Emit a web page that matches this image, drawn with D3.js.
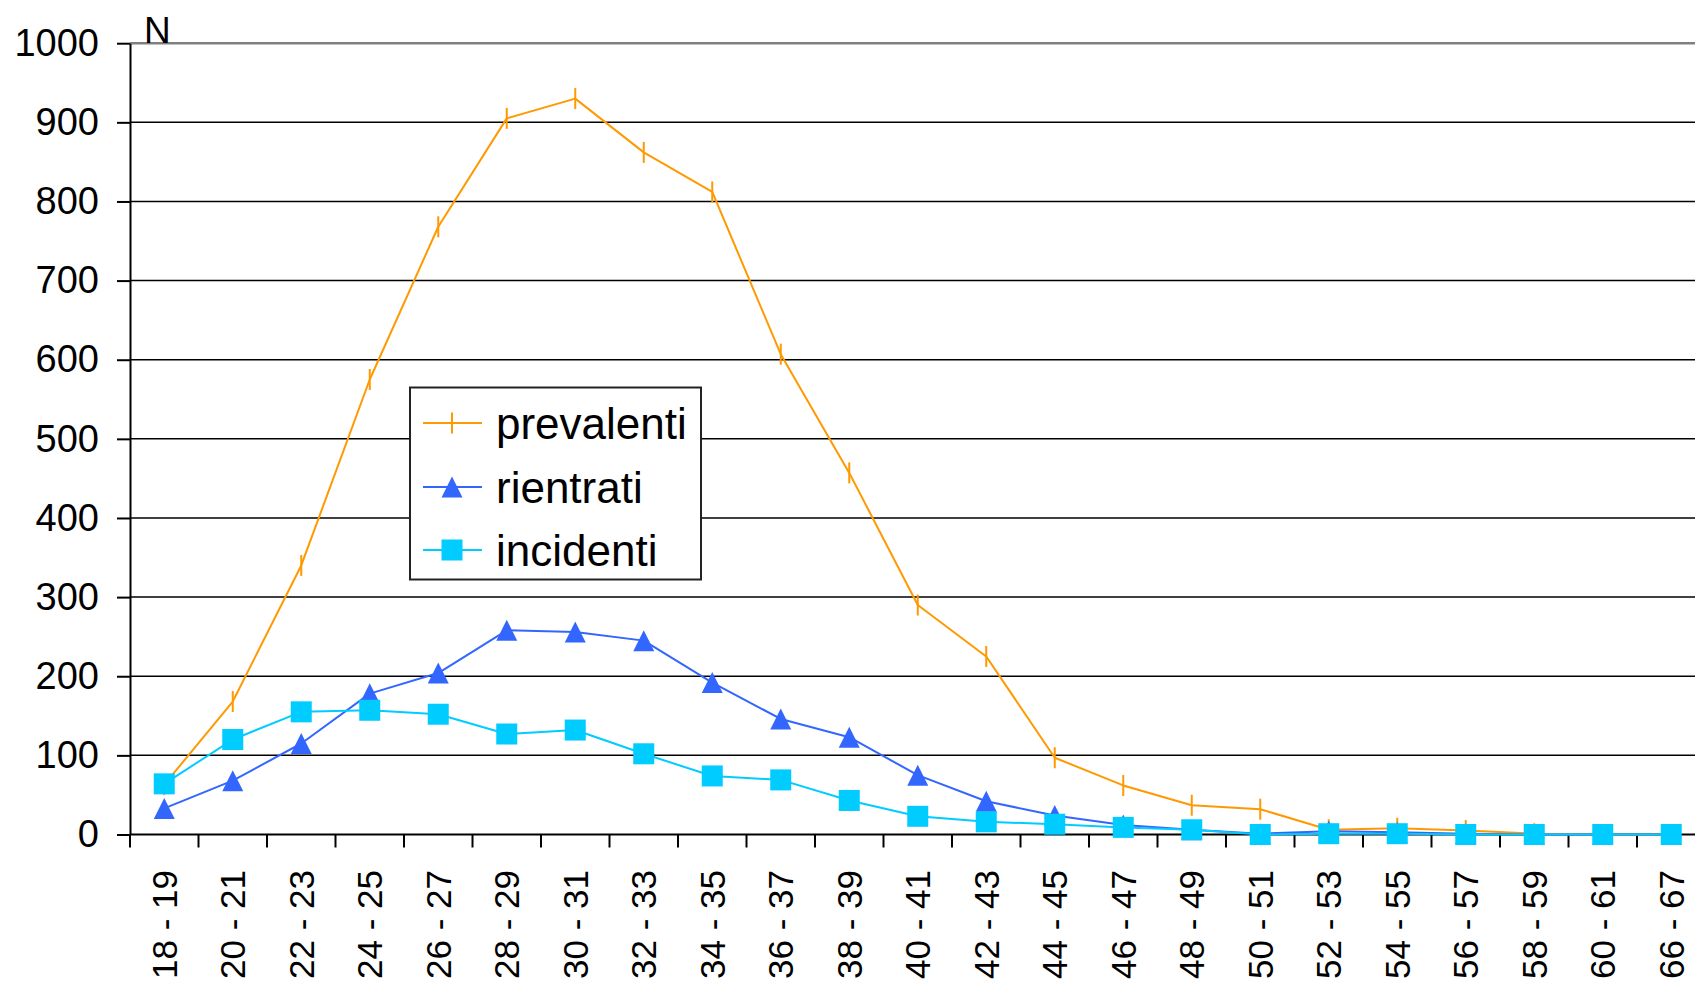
<!DOCTYPE html>
<html>
<head>
<meta charset="utf-8">
<script src="https://cdn.jsdelivr.net/npm/d3@7"></script>
<style>
  html, body { margin: 0; padding: 0; background: #fff; overflow: hidden; }
  svg { display: block; font-family: "Liberation Sans", Arial, sans-serif; }
</style>
</head>
<body>
<svg id="chart" width="1695" height="985"></svg>
<script>
const categories = ["18 - 19","20 - 21","22 - 23","24 - 25","26 - 27","28 - 29","30 - 31","32 - 33","34 - 35","36 - 37","38 - 39","40 - 41","42 - 43","44 - 45","46 - 47","48 - 49","50 - 51","52 - 53","54 - 55","56 - 57","58 - 59","60 - 61","66 - 67"];
const prevalenti = [63,168,340,575,768,905,930,862,812,607,457,290,225,97,62,37,32,6,8,5,1,0,0];
const rientrati  = [33,68,115,178,204,258,256,245,192,146,123,75,42,24,12,6,1,4,3,1,0,0,0];
const incidenti  = [64,120,155,157,152,127,132,102,74,69,43,23,16,13,9,6,0,1,1,0,0,0,0];
const yTicks = [0,100,200,300,400,500,600,700,800,900,1000];
const seriesNames = ["prevalenti","rientrati","incidenti"];
const seriesColors = ["#FF9900","#3366FF","#00CCFF"];

const svg = d3.select("#chart");
const left = 130, band = 68.5;
const x = d3.scaleBand().domain(categories).range([left, left + categories.length * band]).padding(0);
const y = d3.scaleLinear().domain([0, 1000]).range([834.5, 43.2]);
const cx = c => x(c) + x.bandwidth() / 2;
const right = left + categories.length * band;

// gridlines
svg.append("g").selectAll("line").data(yTicks.filter(v => v > 0)).join("line")
  .attr("x1", left).attr("x2", right)
  .attr("y1", d => y(d)).attr("y2", d => y(d))
  .attr("stroke", d => d === 1000 ? "#808080" : "#000")
  .attr("stroke-width", d => d === 1000 ? 2.5 : 1.5);

// y axis
const yAxis = svg.append("g").attr("transform", `translate(${left},0)`)
  .call(d3.axisLeft(y).tickValues(yTicks).tickFormat(d3.format("d")).tickSize(13).tickSizeOuter(0).tickPadding(18));
yAxis.select(".domain").attr("stroke", "#000").attr("stroke-width", 2);
yAxis.selectAll(".tick line").attr("stroke", "#000").attr("stroke-width", 2);
yAxis.selectAll(".tick text").attr("font-size", 38).attr("fill", "#000")
  .attr("font-family", "'Liberation Sans', Arial, sans-serif");

// x axis line
svg.append("line").attr("x1", left).attr("x2", right).attr("y1", y(0)).attr("y2", y(0))
  .attr("stroke", "#000").attr("stroke-width", 2);
// x ticks at band boundaries
const bounds = categories.map(c => x(c)).concat([right]);
svg.append("g").selectAll("line").data(bounds).join("line")
  .attr("x1", d => d).attr("x2", d => d)
  .attr("y1", y(0)).attr("y2", y(0) + 13)
  .attr("stroke", "#000").attr("stroke-width", 2);
// x labels
svg.append("g").selectAll("text").data(categories).join("text")
  .attr("transform", d => `translate(${cx(d)},870) rotate(-90)`)
  .attr("text-anchor", "end").attr("dominant-baseline", "central")
  .attr("font-size", 35).attr("fill", "#000").text(d => d);

// N label
svg.append("text").attr("x", 144).attr("y", 43).attr("font-size", 37).attr("fill", "#000").text("N");

// series
const data = [prevalenti, rientrati, incidenti];
const line = d3.line().x((d, i) => cx(categories[i])).y(d => y(d));
const tri = "M0,-10.5L10.5,10.5L-10.5,10.5Z";

function drawMarker(g, idx, px, py) {
  if (idx === 0) {
    g.append("line").attr("x1", px).attr("x2", px).attr("y1", py - 10.5).attr("y2", py + 10.5)
      .attr("stroke", seriesColors[0]).attr("stroke-width", 2);
  } else if (idx === 1) {
    g.append("path").attr("d", tri).attr("transform", `translate(${px},${py})`).attr("fill", seriesColors[1]);
  } else {
    g.append("rect").attr("x", px - 10.5).attr("y", py - 10.5).attr("width", 21).attr("height", 21)
      .attr("fill", seriesColors[2]);
  }
}

data.forEach((vals, si) => {
  const g = svg.append("g");
  g.append("path").datum(vals).attr("d", line).attr("fill", "none")
    .attr("stroke", seriesColors[si]).attr("stroke-width", 2).attr("stroke-linejoin", "round");
  vals.forEach((v, i) => drawMarker(g, si, cx(categories[i]), y(v)));
});

// legend
const lg = svg.append("g");
lg.append("rect").attr("x", 410).attr("y", 387.5).attr("width", 291).attr("height", 192)
  .attr("fill", "#fff").attr("stroke", "#222").attr("stroke-width", 2);
const rowY = [423, 487, 550];
seriesNames.forEach((name, si) => {
  lg.append("line").attr("x1", 423).attr("x2", 482).attr("y1", rowY[si]).attr("y2", rowY[si])
    .attr("stroke", seriesColors[si]).attr("stroke-width", 2);
  drawMarker(lg, si, 452, rowY[si]);
  lg.append("text").attr("x", 496).attr("y", rowY[si] + 15.5).attr("font-size", 44)
    .attr("fill", "#000").text(name);
});
</script>
</body>
</html>
